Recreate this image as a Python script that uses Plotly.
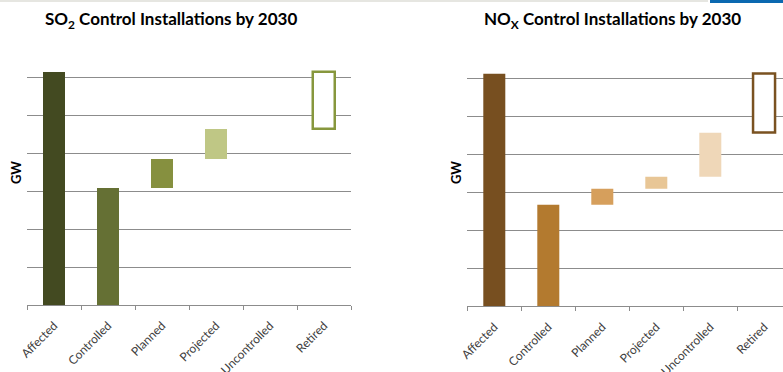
import plotly.graph_objects as go

W, H = 783, 372

categories = ["Affected", "Controlled", "Planned", "Projected", "Uncontrolled", "Retired"]

# GW increments (axis has no labels; one gridline = 1 unit)
so2_affected = 6.13
so2_steps = [3.07, 0.77, 0.79, 0.0, 1.50]   # Controlled, Planned, Projected, Uncontrolled, Retired

nox_affected = 6.13
nox_steps = [2.68, 0.41, 0.33, 1.16, 1.55]

so2_colors = ["#434a21", "#657034", "#86903f", "#bfc785", "#bfc785", "#ffffff"]
so2_line = "#87973d"
nox_colors = ["#774f20", "#b37a2f", "#d69f5c", "#e8c696", "#efd7b8", "#ffffff"]
nox_line = "#7a5221"


def build(affected, steps):
    heights = [affected] + steps
    bases = [0.0]
    run = 0.0
    for s in steps:
        bases.append(run)
        run += s
    return heights, bases


def px_x(p):
    return p / W


def px_y(p):
    return 1 - p / H


fig = go.Figure()

for i, (aff, steps, cols, lc, xa, ya) in enumerate([
    (so2_affected, so2_steps, so2_colors, so2_line, "x", "y"),
    (nox_affected, nox_steps, nox_colors, nox_line, "x2", "y2"),
]):
    h, b = build(aff, steps)
    fig.add_trace(go.Bar(
        x=categories, y=h, base=b,
        marker=dict(color=cols,
                    line=dict(color=[lc] * 6, width=[0, 0, 0, 0, 0, 2.5])),
        width=0.407, xaxis=xa, yaxis=ya, showlegend=False,
    ))

tickfont = dict(family="Lato, sans-serif", size=12, color="#404040")
grid = "#8c8c8c"

xcommon = dict(type="category", tickson="boundaries", ticks="outside", ticklen=4,
               tickcolor=grid, tickwidth=1, showline=True, linecolor=grid, linewidth=1,
               showgrid=False, tickangle=-45, tickfont=tickfont, automargin=False,
               ticklabelstandoff=8, fixedrange=True)
ycommon = dict(range=[0, 7], dtick=1, showgrid=True, gridcolor=grid, gridwidth=1,
               showticklabels=False, ticks="", showline=False, zeroline=False,
               automargin=False, fixedrange=True)

title_font = dict(family="Lato, sans-serif", size=17, color="#000000")
gw_font = dict(family="Lato, sans-serif", size=13, color="#000000")

fig.update_layout(
    width=W, height=H,
    margin=dict(l=0, r=0, t=0, b=0),
    paper_bgcolor="white", plot_bgcolor="white",
    bargap=0,
    xaxis=dict(domain=[px_x(27), px_x(351)], range=[-0.5, 5.5], anchor="y", **xcommon),
    yaxis=dict(domain=[px_y(305), px_y(39)], anchor="x", **ycommon),
    xaxis2=dict(domain=[px_x(467.3), 1], range=[-0.5, 5.5 - 8.3 / 54], anchor="y2", **xcommon),
    yaxis2=dict(domain=[px_y(306.3), px_y(40.7)], anchor="x2", **ycommon),
    annotations=[
        dict(text="<b>SO<sub>2</sub> Control Installations by 2030</b>", x=px_x(43), y=px_y(20),
             xref="paper", yref="paper", xanchor="left", yanchor="middle", showarrow=False,
             font=title_font),
        dict(text="<b>NO<sub>X</sub> Control Installations by 2030</b>", x=px_x(482), y=px_y(20),
             xref="paper", yref="paper", xanchor="left", yanchor="middle", showarrow=False,
             font=title_font),
        dict(text="<b>GW</b>", x=px_x(16), y=px_y(173), xref="paper", yref="paper",
             textangle=-90, showarrow=False, xanchor="center", yanchor="middle",
             font=gw_font),
        dict(text="<b>GW</b>", x=px_x(456), y=px_y(173), xref="paper", yref="paper",
             textangle=-90, showarrow=False, xanchor="center", yanchor="middle",
             font=gw_font),
    ],
    shapes=[
        dict(type="rect", xref="paper", yref="paper", x0=0, x1=px_x(708), y0=px_y(2), y1=1,
             fillcolor="#e6e6e1", line=dict(width=0), layer="above"),
        dict(type="rect", xref="paper", yref="paper", x0=px_x(710), x1=1, y0=px_y(3), y1=1,
             fillcolor="#0a68b0", line=dict(width=0), layer="above"),
    ],
)

fig.write_html("out.html")
